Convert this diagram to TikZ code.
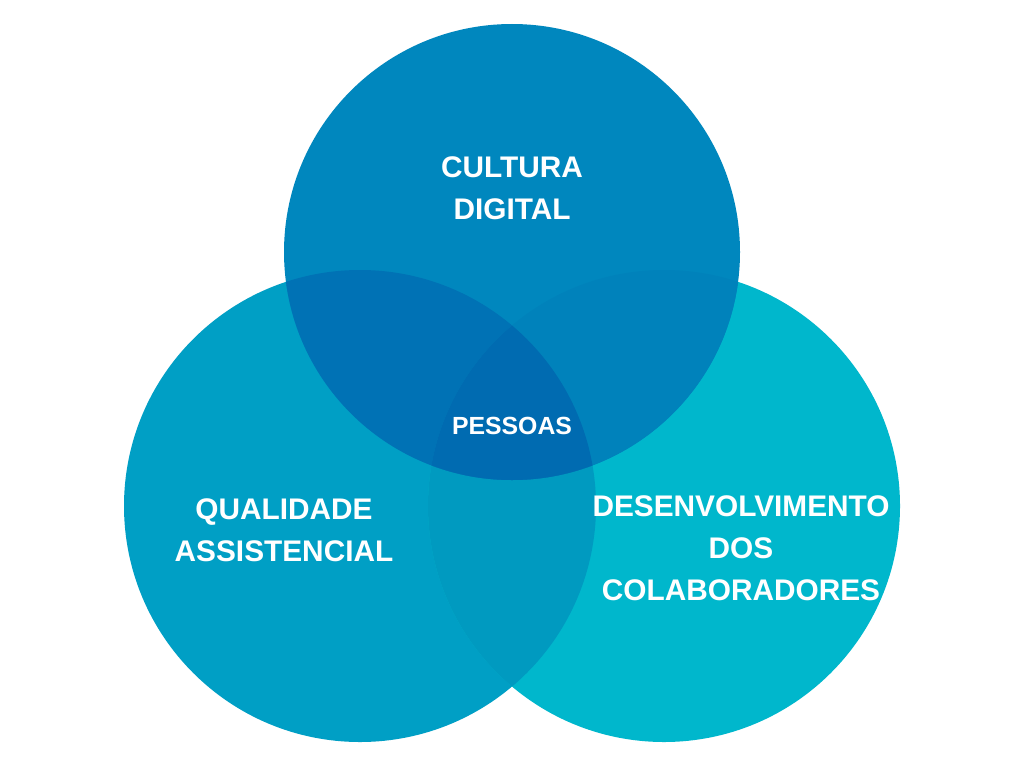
\documentclass[tikz,border=0pt]{standalone}
\usepackage{fontspec}
\setmainfont{Liberation Sans}
\definecolor{ctop}{HTML}{0087BE}
\definecolor{cleft}{HTML}{009FC5}
\definecolor{cright}{HTML}{00B7CC}
\definecolor{ctl}{HTML}{0072B5}
\definecolor{ctr}{HTML}{0082BB}
\definecolor{clr}{HTML}{009AC0}
\definecolor{call}{HTML}{006BB1}
\begin{document}
\begin{tikzpicture}[x=1pt,y=-1pt,
  lbl/.style={text=white,font=\bfseries\fontsize{29.8}{42}\selectfont,align=center,inner sep=0pt},
  small/.style={text=white,font=\bfseries\fontsize{24.8}{28}\selectfont,inner sep=0pt}]
\useasboundingbox[fill=white] (0,0) rectangle (1024,768);
\def\ctop{(512,252) circle[radius=228]}
\def\cleft{(360,506) circle[radius=236]}
\def\cright{(664,506) circle[radius=236]}
\fill[cleft] \cleft;
\fill[cright] \cright;
\begin{scope}\clip \cleft; \fill[clr] \cright; \end{scope}
\fill[ctop] \ctop;
\begin{scope}\clip \ctop; \fill[ctl] \cleft; \end{scope}
\begin{scope}\clip \ctop; \fill[ctr] \cright; \end{scope}
\begin{scope}\clip \ctop; \clip \cleft; \fill[call] \cright; \end{scope}
\node[lbl] (cd) at (512,188) {CULTURA\\DIGITAL};
\node[lbl] (qa) at (284,530) {QUALIDADE\\ASSISTENCIAL};
\node[lbl] (dc) at (741,548) {DESENVOLVIMENTO\\DOS\\COLABORADORES};
\node[small] (pe) at (512,426) {PESSOAS};
\end{tikzpicture}
\end{document}
